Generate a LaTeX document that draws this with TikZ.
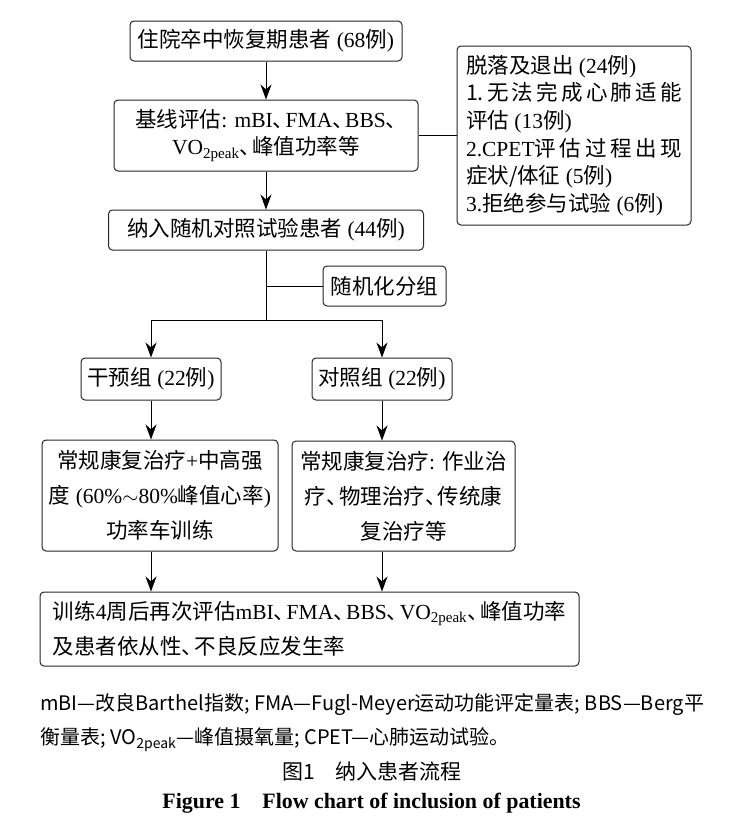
\documentclass[tikz,border=0pt]{standalone}
\usepackage{fontspec}
\setmainfont{Noto Sans CJK SC}
\newfontfamily\timesfont{Liberation Serif}
\newfontfamily\cjkhalf{Noto Sans CJK SC}[RawFeature=+halt]
\usetikzlibrary{positioning,arrows.meta}
\XeTeXlinebreaklocale "zh"
\XeTeXlinebreakskip=0pt plus 5pt
\newcommand{\tn}[1]{{\timesfont #1}}
\newcommand{\dn}{{\cjkhalf 、}\hspace{0.1em}}
\tikzset{
    flow box/.style={rectangle, rounded corners=4pt, draw=black!85, line width=1pt, inner sep=0pt, font=\fontsize{21.5}{27}\selectfont},
    wide box/.style={flow box, font=\fontsize{21.5}{35}\selectfont},
    flow line/.style={line width=0.8pt},
    flow arrow/.style={flow line, -{Stealth[length=15pt, width=11pt]}},
    note text/.style={inner sep=0pt, anchor=west, font=\fontsize{20}{24}\selectfont}
}

\begin{document}
\begin{tikzpicture}[x=1pt, y=-1pt]
    \fill[white] (0,0) rectangle (739,825);
    \useasboundingbox (0,0) rectangle (739,825);

    % Enrolment
    \node[flow box, minimum width=272, minimum height=40] (start) at (266,41) {住院卒中恢复期患者\tn{ (68}例\tn{)}};
    \node[flow box, align=center, minimum width=304, minimum height=71] (baseline) at (266,135.5) {基线评估\tn{: mBI}\dn\tn{FMA}\dn\tn{BBS}\dn\\\tn{VO\textsubscript{2peak}}\dn 峰值功率等};
    \node[flow box, minimum width=315, minimum height=40] (enroll) at (266,230) {纳入随机对照试验患者\tn{ (44}例\tn{)}};

    % Dropout box
    \node[flow box, font=\fontsize{21.5}{27.6}\selectfont, align=justify, text width=216, inner xsep=9pt, minimum height=179] (dropout) at (574,135.5)
        {脱落及退出\tn{ (24}例\tn{)}\\
         1.无法完成心肺适能\linebreak
         评估\tn{ (13}例\tn{)}\\
         \tn{2.CPET}评估过程出现\linebreak
         症状/体征\tn{ (5}例\tn{)}\\
         \tn{3.}拒绝参与试验\tn{ (6}例\tn{)}};

    % Randomisation
    \node[flow box, minimum width=123, minimum height=40] (random) at (384.5,286) {随机化分组};
    \coordinate (split) at (enroll.south |- 0,320);

    % Groups
    \node[flow box, minimum width=140, minimum height=42] (groupA) at (151,379) {干预组\tn{ (22}例\tn{)}};
    \node[flow box, minimum width=140, minimum height=42] (groupB) at (382,379) {对照组\tn{ (22}例\tn{)}};

    % Treatments
    \node[wide box, align=center, minimum width=236, minimum height=111] (treatA) at (160,495.5)
        {常规康复治疗\tn{+}中高强\\度\tn{ (60\%}$\sim$\tn{80\%}峰值心率\tn{)}\\功率车训练};
    \node[wide box, align=center, minimum width=223, minimum height=110] (treatB) at (403.5,496)
        {常规康复治疗\tn{: }作业治\\疗\dn 物理治疗\dn 传统康\\复治疗等};

    % Follow-up
    \node[wide box, align=left, minimum width=539, minimum height=74] (final) at (309.5,629)
        {训练\tn{4}周后再次评估\tn{mBI}\dn\tn{FMA}\dn\tn{BBS}\dn\tn{VO\textsubscript{2peak}}\dn 峰值功率\\及患者依从性\dn 不良反应发生率};

    % Connectors
    \draw[flow arrow] (start) -- (baseline);
    \draw[flow line] (baseline.east) -- (dropout.west);
    \draw[flow arrow] (baseline) -- (enroll);
    \draw[flow line] (enroll) -- (split);
    \draw[flow line] (random.west) -- (random.west -| enroll.south);
    \draw[flow arrow] (split) -| (groupA.north);
    \draw[flow arrow] (split) -| (groupB.north);
    \draw[flow arrow] (groupA) -- (groupA |- treatA.north);
    \draw[flow arrow] (groupB) -- (groupB |- treatB.north);
    \draw[flow arrow] (groupA |- treatA.south) -- (groupA |- final.north);
    \draw[flow arrow] (groupB |- treatB.south) -- (groupB |- final.north);

    % Notes and caption
    \node[note text] (note1) at (40,705) {mBI—改良Barthel指数; FMA—Fugl-Meyer运动功能评定量表; BBS—Berg平};
    \node[note text] (note2) at (40,740) {衡量表; VO\textsubscript{2peak}—峰值摄氧量; CPET—心肺运动试验。};
    \node[inner sep=0pt, font=\fontsize{21}{24}\selectfont] (title) at (372,772) {图1\quad 纳入患者流程};
    \node[inner sep=0pt, font=\fontsize{21.9}{24}\selectfont\timesfont\bfseries] (entitle) at (371.5,803) {Figure 1\quad Flow chart of inclusion of patients};
\end{tikzpicture}
\end{document}
